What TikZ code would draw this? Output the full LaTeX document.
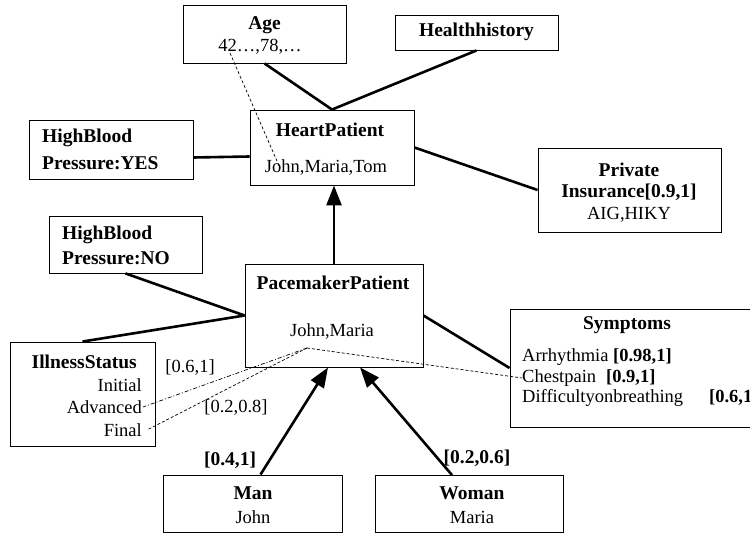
\documentclass[tikz,border=0pt]{standalone}
\usepackage{fontspec}
\setmainfont{Liberation Serif}
\usetikzlibrary{arrows.meta}

\tikzset{
	entity/.style={draw, line width=0.9pt, inner sep=0pt},
	txt/.style={inner sep=0pt, font=\fontsize{18.5}{21}\selectfont},
	bold/.style={inner sep=0pt, font=\fontsize{19.5}{22}\selectfont\bfseries},
	link/.style={line width=2.6pt},
	isa/.style={line width=2.6pt, -{Triangle[length=20pt,width=15pt]}},
	refline/.style={line width=0.7pt, dash pattern=on 3pt off 2pt},
	refdot/.style={line width=0.7pt, dash pattern=on 4pt off 2pt on 1pt off 2pt},
}

\begin{document}
\begin{tikzpicture}[x=1pt, y=-1pt]

	\useasboundingbox (0,0) rectangle (750,534);
	\clip (0,0) rectangle (750,534);

	% boxes
	\node[entity, minimum width=163pt, minimum height=58pt] (age) at (264.5,34) {};
	\node[entity, minimum width=163pt, minimum height=35pt] (hist) at (476.5,32.5) {};
	\node[entity, minimum width=164pt, minimum height=75pt] (heart) at (332,147.5) {};
	\node[entity, minimum width=164pt, minimum height=59pt] (yes) at (111,149.5) {};
	\node[entity, minimum width=183pt, minimum height=84pt] (ins) at (629.5,190) {};
	\node[entity, minimum width=153pt, minimum height=57pt] (no) at (125.5,244.5) {};
	\node[entity, minimum width=178pt, minimum height=103pt] (pm) at (334,315.5) {};
	\node[entity, minimum width=260pt, minimum height=118pt] (sym) at (640,368) {};
	\node[entity, minimum width=145pt, minimum height=104pt] (ill) at (82.5,394) {};
	\node[entity, minimum width=179pt, minimum height=57pt] (man) at (252.5,503.5) {};
	\node[entity, minimum width=188pt, minimum height=57pt] (woman) at (469,504) {};

	% texts in the boxes
	\node[bold] (agett) at (264.5,25) {Age};
	\node[txt] (ageval) at (260,47) {42…,78,…};
	\node[bold] (histtt) at (476.5,32) {Healthhistory};
	\node[bold] (hearttt) at (330,130) {HeartPatient};
	\node[txt] (heartval) at (326,168) {John,Maria,Tom};
	\node[bold, anchor=west] (yes1) at (42,138) {HighBlood};
	\node[bold, anchor=west] (yes2) at (42,163) {Pressure:YES};
	\node[bold] (ins1) at (629,170) {Private};
	\node[bold] (ins2) at (629,192) {Insurance[0.9,1]};
	\node[txt] (ins3) at (629,215) {AIG,HIKY};
	\node[bold, anchor=west] (no1) at (62,235) {HighBlood};
	\node[bold, anchor=west] (no2) at (62,258) {Pressure:NO};
	\node[bold] (pmtt) at (333,283) {PacemakerPatient};
	\node[txt] (pmval) at (332,332) {John,Maria};
	\node[bold] (symtt) at (627,325) {Symptoms};
	\node[txt, anchor=west] (sym1) at (522,357) {Arrhythmia \textbf{[0.98,1]}};
	\node[txt, anchor=west] (sym2) at (522,378) {Chestpain\hspace{10pt}\textbf{[0.9,1]}};
	\node[txt, anchor=west] (sym3) at (522,398) {Difficultyonbreathing\hspace{26pt}\textbf{[0.6,1]}};
	\node[bold, anchor=east] (ill1) at (137,362) {IllnessStatus};
	\node[txt, anchor=east] (ill2) at (142,385) {Initial};
	\node[txt, anchor=east] (ill3) at (142,407) {Advanced};
	\node[txt, anchor=east] (ill4) at (142,430) {Final};
	\node[bold] (mantt) at (253,493) {Man};
	\node[txt] (manval) at (253,517) {John};
	\node[bold] (womtt) at (472,493) {Woman};
	\node[txt] (womval) at (472,517) {Maria};

	% interval labels
	\node[txt] (ivadv) at (190,368) {[0.6,1]};
	\node[txt] (ivfin) at (236,408) {[0.2,0.8]};
	\node[bold] (ivman) at (230,460) {[0.4,1]};
	\node[bold] (ivwom) at (477,458) {[0.2,0.6]};

	% attributes
	\draw[link] (age.south) -- (heart.north);
	\draw[link] (hist.south) -- (heart.north);
	\draw[link] ([yshift=-8pt]yes.east) -- ([yshift=-9pt]heart.west);
	\draw[link] (heart.east) -- (ins.west);
	\draw[link] (no.south) -- (pm.west);
	\draw[link] (ill.north) -- (pm.west);
	\draw[link] (pm.east) -- (sym.west);

	% is-a arrows
	\draw[isa] (pm.north) -- (pm.north |- heart.south);
	\draw[isa] ([xshift=8pt]man.north) -- ([xshift=-6pt]pm.south);
	\draw[isa] ([xshift=-17pt]woman.north) -- ([xshift=26pt]pm.south);

	% instance links
	\coordinate (agept) at (230,53);
	\coordinate (johnpt) at (280,168);
	\coordinate (pmpt) at (307,348);
	\coordinate (advpt) at ([xshift=1pt]ill3.east);
	\coordinate (finpt) at ([xshift=5pt]ill4.east);
	\draw[refline] (agept) -- (johnpt);
	\draw[refdot] (pmpt) -- (advpt);
	\draw[refline] (pmpt) -- (finpt);
	\draw[refline] (pmpt) -- (sym2.west);

\end{tikzpicture}
\end{document}
